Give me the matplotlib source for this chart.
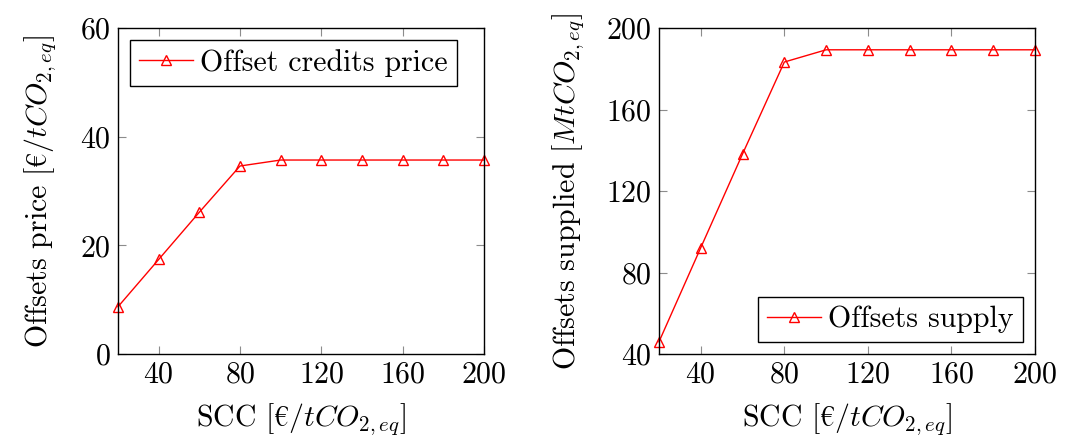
import matplotlib

matplotlib.use("Agg")

import matplotlib.pyplot as plt

plt.rcParams["font.family"] = ["cmr10", "DejaVu Serif"]
plt.rcParams["mathtext.fontset"] = "cm"
plt.rcParams["axes.formatter.use_mathtext"] = True

scc = [20, 40, 60, 80, 100, 120, 140, 160, 180, 200]
offsets_price = [8.7, 17.4, 26.1, 34.6, 35.7, 35.7, 35.7, 35.7, 35.7, 35.7]
offsets_supply = [46.0, 92.2, 138.2, 183.3, 189.3, 189.3, 189.3, 189.3, 189.3, 189.3]

x_ticks = [40, 80, 120, 160, 200]
price_ticks = [0, 20, 40, 60]
supply_ticks = [40, 80, 120, 160, 200]

FS = 21.5
XLABEL = "SCC [$\u20ac/tCO_{2,eq}$]"


def style_axes(ax):
    ax.tick_params(direction="in", top=True, right=True, length=6,
                   color="0.55", labelsize=FS, pad=5)
    for sp in ax.spines.values():
        sp.set_linewidth(1.0)
    ax.set_xlim(20, 200)
    ax.set_xticks(x_ticks)


fig = plt.figure(figsize=(10.67, 4.41), dpi=100)
ax1 = fig.add_axes([118 / 1067, 1 - 354 / 441, 366 / 1067, 326 / 441])
ax2 = fig.add_axes([659 / 1067, 1 - 354 / 441, 376 / 1067, 326 / 441])

line_kw = dict(color="red", lw=1.0, marker="^", markersize=6.5, mew=1.0,
               markerfacecolor="none", markeredgecolor="red", clip_on=False)

ax1.plot(scc, offsets_price, label="Offset credits price", **line_kw)
style_axes(ax1)
ax1.set_ylim(0, 60)
ax1.set_yticks(price_ticks)
ax1.set_xlabel(XLABEL, fontsize=FS, labelpad=9)
ax1.set_ylabel("Offsets price [$\u20ac/tCO_{2,eq}$]", fontsize=FS, labelpad=16)
leg1 = ax1.legend(loc="upper left", fontsize=FS, fancybox=False,
                  edgecolor="black", framealpha=1, handlelength=1.8,
                  borderpad=0.3, handletextpad=0.25, borderaxespad=0.4)
leg1.get_frame().set_linewidth(1.0)

ax2.plot(scc, offsets_supply, label="Offsets supply", **line_kw)
style_axes(ax2)
ax2.set_ylim(40, 200)
ax2.set_yticks(supply_ticks)
ax2.set_xlabel(XLABEL, fontsize=FS, labelpad=9)
ax2.set_ylabel("Offsets supplied [$MtCO_{2,eq}$]", fontsize=FS, labelpad=15)
leg2 = ax2.legend(loc="lower right", fontsize=FS, fancybox=False,
                  edgecolor="black", framealpha=1, handlelength=1.8,
                  borderpad=0.3, handletextpad=0.25, borderaxespad=0.4)
leg2.get_frame().set_linewidth(1.0)

fig.savefig("out.png", dpi=100)
